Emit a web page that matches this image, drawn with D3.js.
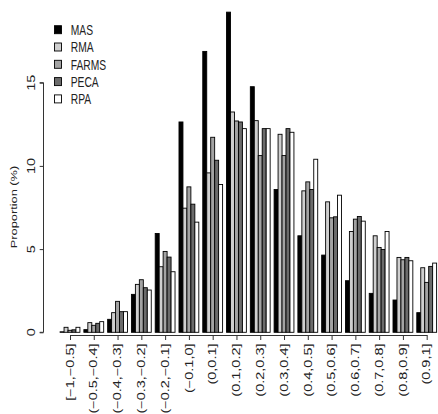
<!DOCTYPE html>
<html>
<head>
<meta charset="utf-8">
<script src="https://cdn.jsdelivr.net/npm/d3@7"></script>
<style>
html,body{margin:0;padding:0;background:#fff;overflow:hidden;}
svg{display:block;}
text{font-family:"Liberation Sans",Arial,Helvetica,sans-serif;fill:#222;}
</style>
</head>
<body>
<script>
const categories = ["[−1,−0.5]","(−0.5,−0.4]","(−0.4,−0.3]","(−0.3,−0.2]","(−0.2,−0.1]","(−0.1,0]","(0,0.1]","(0.1,0.2]","(0.2,0.3]","(0.3,0.4]","(0.4,0.5]","(0.5,0.6]","(0.6,0.7]","(0.7,0.8]","(0.8,0.9]","(0.9,1]"];
const seriesNames = ["MAS","RMA","FARMS","PECA","RPA"];
const seriesColors = ["#000000","#cfcfcf","#a3a3a3","#6b6b6b","#ffffff"];
const MAS   = [0.03,0.16,0.78,2.28,5.94,12.64,16.88,19.24,14.76,8.58,5.80,4.64,3.10,2.34,1.94,1.18];
const RMA   = [0.30,0.58,1.18,2.88,3.94,7.46,9.58,13.24,12.72,11.90,8.50,7.84,6.06,5.80,4.50,3.88];
const FARMS = [0.12,0.42,1.86,3.16,4.86,8.74,11.72,12.70,10.62,10.62,9.04,6.88,6.80,5.10,4.36,3.00];
const PECA  = [0.15,0.54,1.24,2.68,4.52,7.70,10.34,12.64,12.24,12.24,8.58,6.94,6.96,4.98,4.50,3.96];
const RPA   = [0.30,0.64,1.24,2.54,3.64,6.62,8.88,12.24,12.24,12.02,10.40,8.24,6.68,6.06,4.30,4.16];
const yTicks = [0,5,10,15];
const yLabel = "Proportion (%)";

const series = [MAS,RMA,FARMS,PECA,RPA];
const W = 438, H = 414;
const SX = 0.71; // horizontal squeeze of glyphs
const FS = 14.5;

const svg = d3.select("body").append("svg").attr("width",W).attr("height",H);

const x = d3.scalePoint().domain(categories).range([70, 426.7]);
const inner = d3.scaleBand().domain(seriesNames).range([-9.91, 9.91]).padding(0);
const y = d3.scaleLinear().domain([0,15]).range([332.3, 82.7]);

// bars
const g = svg.append("g");
categories.forEach((c, i) => {
  seriesNames.forEach((s, j) => {
    const v = series[j][i];
    g.append("rect")
      .attr("x", x(c) + inner(s))
      .attr("y", y(v))
      .attr("width", inner.bandwidth())
      .attr("height", y(0) - y(v))
      .attr("fill", seriesColors[j])
      .attr("stroke", "#000")
      .attr("stroke-width", 0.9);
  });
});

// y axis
const yAxis = svg.append("g").attr("transform","translate(43.5,0)")
  .call(d3.axisLeft(y).tickValues(yTicks).tickSize(3.8).tickFormat(d3.format("d")));
yAxis.select(".domain").attr("stroke","#333").attr("d", `M-3.8,${y(0)}H0V${y(15)}H-3.8`);
yAxis.selectAll(".tick line").attr("stroke","#333");
yAxis.selectAll(".tick text").remove();
yTicks.forEach(t => {
  svg.append("text")
    .attr("transform", `translate(31.7,${y(t)}) scale(${SX},1) rotate(-90)`)
    .attr("text-anchor","middle").attr("dy","0.36em")
    .style("font-size", FS+"px").text(t);
});
svg.append("text")
  .attr("transform", `translate(13.5,207) scale(${SX},1) rotate(-90)`)
  .attr("text-anchor","middle").attr("dy","0.36em")
  .style("font-size", "12.8px").text(yLabel);

// x axis
const xAxis = svg.append("g").attr("transform","translate(0,335)")
  .call(d3.axisBottom(x).tickSize(5).tickSizeOuter(0));
xAxis.select(".domain").attr("stroke","#333");
xAxis.selectAll(".tick line").attr("stroke","#333");
xAxis.selectAll(".tick text").remove();
categories.forEach(c => {
  svg.append("text")
    .attr("transform", `translate(${x(c)},343.5) scale(${SX},1) rotate(-90)`)
    .attr("text-anchor","end").attr("dy","0.36em")
    .style("font-size", "14.5px").text(c);
});

// legend
const leg = svg.append("g");
seriesNames.forEach((s, j) => {
  const cy = 29.7 + j*17.3;
  leg.append("rect").attr("x",54.5).attr("y",cy-4).attr("width",7).attr("height",8)
    .attr("fill",seriesColors[j]).attr("stroke","#000").attr("stroke-width",0.9);
  leg.append("text")
    .attr("transform", `translate(70.7,${cy}) scale(${SX},1)`)
    .attr("dy","0.36em").style("font-size", FS+"px").text(s);
});
</script>
</body>
</html>
